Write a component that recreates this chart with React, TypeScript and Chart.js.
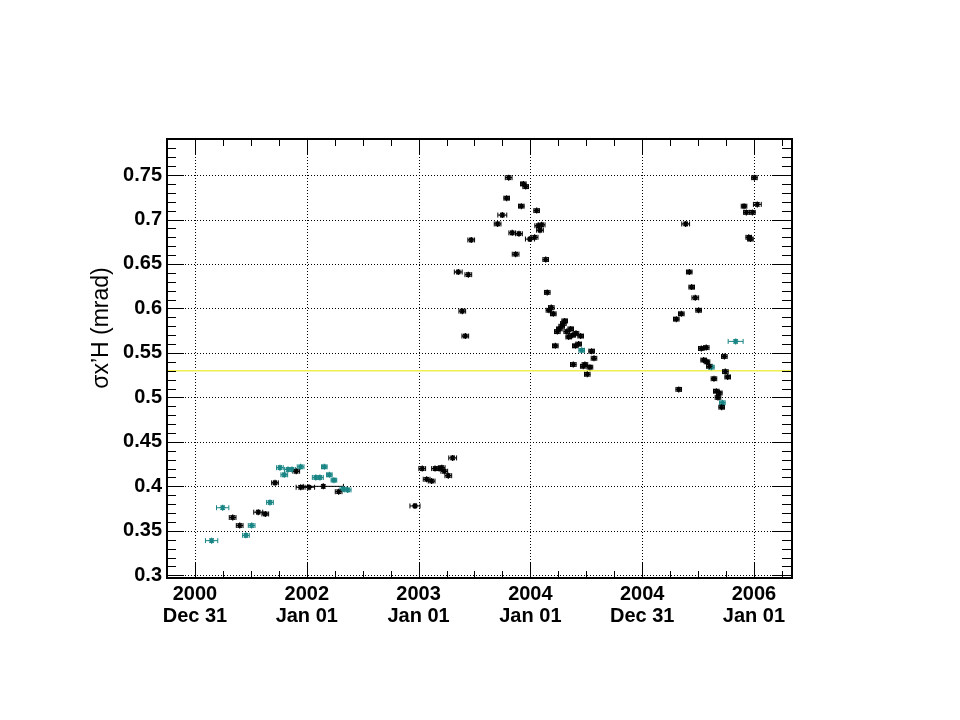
import React, { useEffect, useRef } from 'react';
import { Chart, registerables } from 'chart.js';

Chart.register(...registerables);

// ---- axis ranges & labels ----
const X_MIN = 2000.75;
const X_MAX = 2006.34;
const Y_MIN = 0.297;
const Y_MAX = 0.7905;
const xTickValues = [2001, 2002, 2003, 2004, 2005, 2006];
const xTickYears = ['2000', '2002', '2003', '2004', '2004', '2006'];
const xTickDays = ['Dec 31', 'Jan 01', 'Jan 01', 'Jan 01', 'Dec 31', 'Jan 01'];
const yTickValues = [0.3, 0.35, 0.4, 0.45, 0.5, 0.55, 0.6, 0.65, 0.7, 0.75];
const yTickLabels = ['0.3', '0.35', '0.4', '0.45', '0.5', '0.55', '0.6', '0.65', '0.7', '0.75'];
const yTitle = 'σx’H (mrad)';
const meanValue = 0.53;

// ---- series: black markers (date in years, sigma in mrad, x half-error in years) ----
const blackDates = [
  2001.337, 2001.400, 2001.566, 2001.629, 2001.716, 2001.906, 2001.945, 2002.020, 2002.148, 2002.285,
  2002.968, 2003.033, 2003.072, 2003.117, 2003.147, 2003.185, 2003.207, 2003.230, 2003.266, 2003.305,
  2003.355, 2003.391, 2003.418, 2003.445, 2003.471, 2003.707, 2003.749, 2003.788, 2003.806, 2003.838,
  2003.868, 2003.898, 2003.919, 2003.937, 2003.958, 2003.996, 2004.038, 2004.056, 2004.070, 2004.086,
  2004.101, 2004.137, 2004.151, 2004.166, 2004.187, 2004.205, 2004.223, 2004.241, 2004.259, 2004.280,
  2004.295, 2004.307, 2004.325, 2004.343, 2004.361, 2004.379, 2004.408, 2004.402, 2004.432, 2004.450,
  2004.384, 2004.473, 2004.488, 2004.509, 2004.533, 2004.548, 2004.569, 2005.305, 2005.350, 2005.327,
  2005.389, 2005.421, 2005.443, 2005.475, 2005.505, 2005.529, 2005.573, 2005.550, 2005.580, 2005.601,
  2005.642, 2005.663, 2005.690, 2005.678, 2005.711, 2005.735, 2005.744, 2005.765, 2005.911, 2005.932,
  2005.986, 2006.004, 2006.030, 2005.953, 2005.968,
];
const blackSigma = [
  0.365, 0.356, 0.371, 0.369, 0.404, 0.417, 0.399, 0.399, 0.400, 0.394,
  0.378, 0.420, 0.408, 0.406, 0.420, 0.420, 0.421, 0.417, 0.412, 0.432,
  0.641, 0.597, 0.569, 0.638, 0.677, 0.695, 0.705, 0.724, 0.747, 0.685,
  0.661, 0.684, 0.715, 0.740, 0.737, 0.678, 0.680, 0.710, 0.693, 0.688,
  0.694, 0.655, 0.618, 0.598, 0.601, 0.594, 0.558, 0.574, 0.577, 0.580,
  0.583, 0.586, 0.574, 0.568, 0.577, 0.570, 0.572, 0.558, 0.560, 0.569,
  0.537, 0.535, 0.537, 0.526, 0.534, 0.552, 0.544, 0.588, 0.594, 0.509,
  0.695, 0.641, 0.624, 0.612, 0.598, 0.555, 0.556, 0.542, 0.540, 0.535,
  0.521, 0.507, 0.505, 0.500, 0.489, 0.546, 0.529, 0.523, 0.715, 0.708,
  0.708, 0.747, 0.717, 0.680, 0.678,
];
const blackXErr = [
  0.03, 0.03, 0.04, 0.03, 0.03, 0.03, 0.04, 0.05, 0.18, 0.03,
  0.045, 0.03, 0.03, 0.03, 0.03, 0.03, 0.03, 0.03, 0.03, 0.035,
  0.035, 0.03, 0.03, 0.03, 0.03, 0.03, 0.04, 0.025, 0.03, 0.03,
  0.03, 0.03, 0.025, 0.025, 0.025, 0.04, 0.03, 0.025, 0.03, 0.03,
  0.03, 0.025, 0.025, 0.025, 0.025, 0.025, 0.025, 0.025, 0.025, 0.025,
  0.025, 0.025, 0.025, 0.025, 0.025, 0.025, 0.025, 0.025, 0.025, 0.025,
  0.025, 0.025, 0.025, 0.025, 0.025, 0.025, 0.025, 0.025, 0.025, 0.025,
  0.035, 0.025, 0.025, 0.03, 0.025, 0.025, 0.025, 0.025, 0.025, 0.025,
  0.025, 0.025, 0.025, 0.025, 0.025, 0.025, 0.025, 0.025, 0.025, 0.025,
  0.025, 0.025, 0.035, 0.025, 0.025,
];

// ---- series: teal markers ----
const tealDates = [
  2001.149, 2001.248, 2001.456, 2001.507, 2001.671, 2001.760, 2001.799, 2001.832, 2001.868, 2001.945,
  2002.327, 2002.366, 2002.080, 2002.118, 2002.157, 2002.202, 2002.243, 2004.459, 2005.619, 2005.717,
  2005.836,
];
const tealSigma = [
  0.339, 0.376, 0.345, 0.356, 0.382, 0.421, 0.413, 0.419, 0.419, 0.422,
  0.397, 0.396, 0.410, 0.410, 0.422, 0.413, 0.407, 0.553, 0.534, 0.494,
  0.563,
];
const tealXErr = [
  0.055, 0.055, 0.03, 0.03, 0.03, 0.03, 0.03, 0.03, 0.03, 0.03,
  0.03, 0.03, 0.03, 0.03, 0.025, 0.025, 0.025, 0.025, 0.025, 0.025,
  0.067,
];
const yErrDefault = 0.002;

const BLACK = '#000000';
const TEAL = '#1a8585';

const seriesList = [
  { dates: blackDates, sigma: blackSigma, xErr: blackXErr, color: BLACK },
  { dates: tealDates, sigma: tealSigma, xErr: tealXErr, color: TEAL },
];

const rootStyle = {
  id: 'rootStyle',
  beforeDatasetsDraw(chart: any) {
    const { ctx, chartArea: a, scales } = chart;
    const xs = scales.x;
    const ys = scales.y;
    ctx.save();
    // dotted grid
    ctx.strokeStyle = '#000';
    ctx.lineWidth = 1;
    ctx.setLineDash([1, 2]);
    xTickValues.forEach((v) => {
      const px = Math.round(xs.getPixelForValue(v)) + 0.5;
      ctx.beginPath();
      ctx.moveTo(px, a.top);
      ctx.lineTo(px, a.bottom);
      ctx.stroke();
    });
    yTickValues.forEach((v) => {
      const py = Math.round(ys.getPixelForValue(v)) + 0.5;
      ctx.beginPath();
      ctx.moveTo(a.left, py);
      ctx.lineTo(a.right, py);
      ctx.stroke();
    });
    ctx.setLineDash([]);
    // mean line
    const my = ys.getPixelForValue(meanValue);
    ctx.strokeStyle = '#eeee55';
    ctx.lineWidth = 1.5;
    ctx.beginPath();
    ctx.moveTo(a.left, my);
    ctx.lineTo(a.right, my);
    ctx.stroke();
    // error bars
    ctx.lineWidth = 1;
    seriesList.forEach((s) => {
      ctx.strokeStyle = s.color;
      s.dates.forEach((d, i) => {
        const cx = xs.getPixelForValue(d);
        const cy = ys.getPixelForValue(s.sigma[i]);
        const x0 = xs.getPixelForValue(d - s.xErr[i]);
        const x1 = xs.getPixelForValue(d + s.xErr[i]);
        const y0 = ys.getPixelForValue(s.sigma[i] - yErrDefault);
        const y1 = ys.getPixelForValue(s.sigma[i] + yErrDefault);
        ctx.beginPath();
        ctx.moveTo(x0, cy);
        ctx.lineTo(x1, cy);
        ctx.moveTo(x0, cy - 2.5);
        ctx.lineTo(x0, cy + 2.5);
        ctx.moveTo(x1, cy - 2.5);
        ctx.lineTo(x1, cy + 2.5);
        ctx.moveTo(cx, y0);
        ctx.lineTo(cx, y1);
        ctx.moveTo(cx - 2, y0);
        ctx.lineTo(cx + 2, y0);
        ctx.moveTo(cx - 2, y1);
        ctx.lineTo(cx + 2, y1);
        ctx.stroke();
      });
    });
    ctx.restore();
  },
  afterDatasetsDraw(chart: any) {
    const { ctx, chartArea: a, scales } = chart;
    const xs = scales.x;
    const ys = scales.y;
    ctx.save();
    ctx.strokeStyle = '#000';
    ctx.lineWidth = 1;
    // y ticks (left & right)
    for (let k = 30; k <= 79; k++) {
      const v = k / 100;
      const major = k % 5 === 0;
      const py = Math.round(ys.getPixelForValue(v)) + 0.5;
      const lenL = major ? 17 : 9;
      const lenR = major ? 20 : 10;
      ctx.beginPath();
      ctx.moveTo(a.left, py);
      ctx.lineTo(a.left + lenL, py);
      ctx.moveTo(a.right, py);
      ctx.lineTo(a.right - lenR, py);
      ctx.stroke();
    }
    // x ticks (top & bottom)
    for (let k = 0; k <= 22; k++) {
      const v = 2000.75 + k * 0.25;
      if (v > X_MAX) break;
      const major = k % 4 === 1;
      const px = Math.round(xs.getPixelForValue(v)) + 0.5;
      const len = major ? 15 : 7;
      ctx.beginPath();
      ctx.moveTo(px, a.top);
      ctx.lineTo(px, a.top + len);
      ctx.moveTo(px, a.bottom);
      ctx.lineTo(px, a.bottom - len);
      ctx.stroke();
    }
    // frame
    ctx.lineWidth = 2;
    ctx.strokeRect(a.left, a.top, a.right - a.left, a.bottom - a.top);
    // y title
    ctx.fillStyle = '#000';
    ctx.font = '23px "Liberation Sans", Arial, sans-serif';
    ctx.textAlign = 'center';
    ctx.textBaseline = 'middle';
    ctx.translate(102, 328);
    ctx.rotate(-Math.PI / 2);
    ctx.fillText(yTitle, 0, 0);
    ctx.restore();
  },
};

export default function App() {
  const ref = useRef<HTMLCanvasElement | null>(null);
  useEffect(() => {
    if (!ref.current) return;
    Chart.defaults.font.family = '"Liberation Sans", Arial, sans-serif';
    const datasets = seriesList.map((s) => ({
      data: s.dates.map((d, i) => ({ x: d, y: s.sigma[i] })),
      pointStyle: 'star' as const,
      pointRadius: 3,
      borderWidth: 1.3,
      borderColor: s.color,
      backgroundColor: s.color,
    }));
    const chart = new Chart(ref.current, {
      type: 'scatter',
      data: { datasets },
      options: {
        animation: false,
        responsive: false,
        devicePixelRatio: 1,
        layout: { padding: { left: 0, top: 139, right: 168, bottom: 0 } },
        plugins: { legend: { display: false }, tooltip: { enabled: false } },
        scales: {
          x: {
            type: 'linear',
            min: X_MIN,
            max: X_MAX,
            grid: { display: false, drawTicks: false },
            border: { display: false },
            afterBuildTicks: (s: any) => {
              s.ticks = xTickValues.map((v) => ({ value: v }));
            },
            afterFit: (s: any) => {
              s.height = 142;
            },
            ticks: {
              autoSkip: false,
              maxRotation: 0,
              minRotation: 0,
              padding: 5,
              color: '#000',
              font: { size: 20, weight: 'bold', lineHeight: 1.12 },
              callback: (_v: any, i: number) => [xTickYears[i], xTickDays[i]],
            },
          },
          y: {
            type: 'linear',
            min: Y_MIN,
            max: Y_MAX,
            grid: { display: false, drawTicks: false },
            border: { display: false },
            afterBuildTicks: (s: any) => {
              s.ticks = yTickValues.map((v) => ({ value: v }));
            },
            afterFit: (s: any) => {
              s.width = 167;
            },
            ticks: {
              padding: 5,
              color: '#000',
              font: { size: 20, weight: 'bold' },
              callback: (_v: any, i: number) => yTickLabels[i],
            },
          },
        },
      },
      plugins: [rootStyle],
    });
    return () => chart.destroy();
  }, []);
  return (
    <div style={{ position: 'fixed', left: 0, top: 0, width: 960, height: 720, background: '#fff' }}>
      <canvas ref={ref} width={960} height={720} />
    </div>
  );
}
